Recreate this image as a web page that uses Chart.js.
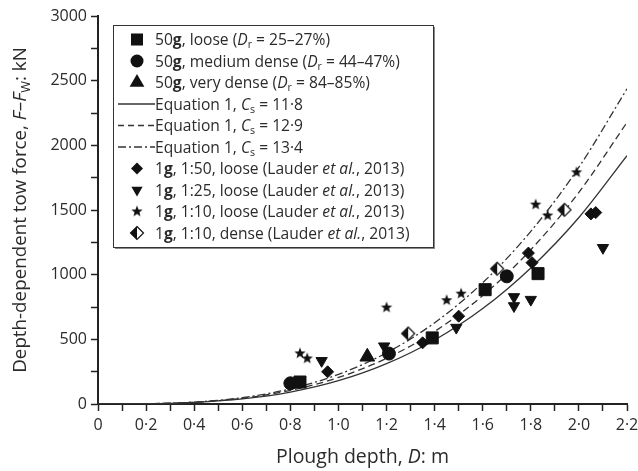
<!DOCTYPE html>
<html>
<head>
<meta charset="utf-8">
<script src="https://cdn.jsdelivr.net/npm/chart.js@4.4.0/dist/chart.umd.min.js"></script>
<style>
  html, body { margin: 0; padding: 0; background: #fff; }
  #wrap { width: 638px; height: 471px; }
</style>
</head>
<body>
<div id="wrap"><canvas id="c"></canvas></div>
<script>
const FONT = '"Open Sans", "Noto Sans", sans-serif';
const INK = '#2b2b2b';

// 50g centrifuge tests (plough depth D in m, force in kN)
const g50LooseD = [0.84, 1.39, 1.61, 1.83];
const g50LooseF = [170, 511, 884, 1008];
const g50MedD = [0.80, 1.21, 1.70];
const g50MedF = [160, 390, 987];
const g50DenseD = [1.12];
const g50DenseF = [365];

// 1g tests (Lauder et al., 2013)
const lau50D = [0.955, 1.35, 1.50, 1.79, 1.805, 2.05, 2.07];
const lau50F = [249, 473, 679, 1167, 1093, 1470, 1480];
const lau25D = [0.93, 1.19, 1.49, 1.73, 1.73, 1.80, 2.10];
const lau25F = [334, 447, 591, 828, 758, 807, 1208];
const lau10D = [0.84, 0.87, 1.20, 1.45, 1.51, 1.82, 1.87, 1.99];
const lau10F = [391, 352, 746, 802, 853, 1542, 1457, 1791];
const lau10dD = [1.29, 1.66, 1.94];
const lau10dF = [545, 1046, 1501];

// Equation 1 curves
const curveD    = [0, 0.2, 0.4, 0.6, 0.8, 1.0, 1.2, 1.4, 1.6, 1.8, 2.0, 2.2];
const curve118  = [0, 1, 12, 39, 92, 180, 312, 495, 738, 1052, 1442, 1920];
const curve129  = [0, 2, 13, 44, 105, 205, 353, 561, 838, 1193, 1636, 2177];
const curve134  = [0, 2, 15, 49, 117, 229, 396, 628, 938, 1335, 1831, 2437];

// legend text runs: '' normal, 'b' bold, 'i' italic, 's' subscript
const legendLabels = [
  [['50', ''], ['g', 'b'], [', loose (', ''], ['D', 'i'], ['r', 's'], [' = 25–27%)', '']],
  [['50', ''], ['g', 'b'], [', medium dense (', ''], ['D', 'i'], ['r', 's'], [' = 44–47%)', '']],
  [['50', ''], ['g', 'b'], [', very dense (', ''], ['D', 'i'], ['r', 's'], [' = 84–85%)', '']],
  [['Equation 1, ', ''], ['C', 'i'], ['s', 's'], [' = 11·8', '']],
  [['Equation 1, ', ''], ['C', 'i'], ['s', 's'], [' = 12·9', '']],
  [['Equation 1, ', ''], ['C', 'i'], ['s', 's'], [' = 13·4', '']],
  [['1', ''], ['g', 'b'], [', 1:50, loose (Lauder ', ''], ['et al.', 'i'], [', 2013)', '']],
  [['1', ''], ['g', 'b'], [', 1:25, loose (Lauder ', ''], ['et al.', 'i'], [', 2013)', '']],
  [['1', ''], ['g', 'b'], [', 1:10, loose (Lauder ', ''], ['et al.', 'i'], [', 2013)', '']],
  [['1', ''], ['g', 'b'], [', 1:10, dense (Lauder ', ''], ['et al.', 'i'], [', 2013)', '']]
];
const yTitle = [['Depth-dependent tow force, ', ''], ['F', 'i'], ['–', ''], ['F', 'i'], ['W', 's'], [': kN', '']];
const xTitle = [['Plough depth, ', ''], ['D', 'i'], [': m', '']];

function toXY(xs, ys) { return xs.map((x, i) => ({ x: x, y: ys[i] })); }

// custom marker images
function starImg(r) {
  const c = document.createElement('canvas');
  c.width = c.height = Math.ceil(r * 2 + 2);
  const g = c.getContext('2d');
  const cx = c.width / 2, cy = c.height / 2;
  g.beginPath();
  for (let i = 0; i < 10; i++) {
    const a = -Math.PI / 2 + i * Math.PI / 5;
    const rr = i % 2 ? r * 0.42 : r;
    g.lineTo(cx + rr * Math.cos(a), cy + rr * Math.sin(a));
  }
  g.closePath();
  g.fillStyle = '#111';
  g.fill();
  return c;
}
function halfDiamondImg(r) {
  const c = document.createElement('canvas');
  c.width = c.height = Math.ceil(r * 2 + 3);
  const g = c.getContext('2d');
  const cx = c.width / 2, cy = c.height / 2;
  g.beginPath();
  g.moveTo(cx, cy - r); g.lineTo(cx + r, cy); g.lineTo(cx, cy + r); g.lineTo(cx - r, cy); g.closePath();
  g.fillStyle = '#fff'; g.fill();
  g.beginPath();
  g.moveTo(cx, cy - r); g.lineTo(cx, cy + r); g.lineTo(cx - r, cy); g.closePath();
  g.fillStyle = '#111'; g.fill();
  g.beginPath();
  g.moveTo(cx, cy - r); g.lineTo(cx + r, cy); g.lineTo(cx, cy + r); g.lineTo(cx - r, cy); g.closePath();
  g.lineWidth = 1.2; g.strokeStyle = '#111'; g.stroke();
  return c;
}
const starMark = starImg(6);
const halfMark = halfDiamondImg(6.5);

function fontFor(s, size) {
  const st = s.includes('i') ? 'italic ' : '';
  const wt = s.includes('b') ? 'bold ' : '';
  const fs = s.includes('s') ? size * 0.68 : size;
  return st + wt + fs + 'px ' + FONT;
}
function richWidth(ctx, runs, size) {
  let w = 0;
  for (const [t, s] of runs) { ctx.font = fontFor(s, size); w += ctx.measureText(t).width; }
  return w;
}
function drawRich(ctx, runs, x, y, size) {
  ctx.textBaseline = 'alphabetic';
  ctx.textAlign = 'left';
  for (const [t, s] of runs) {
    ctx.font = fontFor(s, size);
    ctx.fillText(t, x, y + (s.includes('s') ? size * 0.22 : 0));
    x += ctx.measureText(t).width;
  }
}

const markers = [
  { pointStyle: 'rect', radius: 8.5, rotation: 0 },
  { pointStyle: 'circle', radius: 6.5, rotation: 0 },
  { pointStyle: 'triangle', radius: 8.5, rotation: 0 },
  { line: [] }, { line: [6, 4] }, { line: [8, 3, 2, 3] },
  { pointStyle: 'rectRot', radius: 6, rotation: 0 },
  { pointStyle: 'triangle', radius: 6.5, rotation: 180 },
  { pointStyle: starMark, radius: 6, rotation: 0 },
  { pointStyle: halfMark, radius: 6, rotation: 0 }
];

const annotations = {
  id: 'richText',
  afterDraw(chart) {
    const ctx = chart.ctx;
    const area = chart.chartArea;
    ctx.save();
    ctx.fillStyle = INK;
    // axis titles
    const xw = richWidth(ctx, xTitle, 19.5);
    drawRich(ctx, xTitle, (area.left + area.right) / 2 - xw / 2, 463, 19.5);
    ctx.save();
    ctx.translate(26, (area.top + area.bottom) / 2);
    ctx.rotate(-Math.PI / 2);
    const yw = richWidth(ctx, yTitle, 18.8);
    drawRich(ctx, yTitle, -yw / 2, 0, 18.8);
    ctx.restore();

    // legend box
    const bx = 113, by = 25, bw = 320, bh = 222;
    ctx.fillStyle = '#fff';
    ctx.fillRect(bx, by, bw, bh);
    ctx.fillStyle = '#888';
    ctx.fillRect(bx + 2, by + bh, bw, 2);
    ctx.fillRect(bx + bw, by + 2, 2, bh);
    ctx.strokeStyle = '#333';
    ctx.lineWidth = 1;
    ctx.strokeRect(bx + 0.5, by + 0.5, bw, bh);
    for (let i = 0; i < legendLabels.length; i++) {
      const y = 39.5 + i * 21.5;
      const m = markers[i];
      if (m.line) {
        ctx.save();
        ctx.strokeStyle = '#333';
        ctx.lineWidth = 1.3;
        ctx.setLineDash(m.line);
        ctx.beginPath();
        ctx.moveTo(118, y); ctx.lineTo(155, y);
        ctx.stroke();
        ctx.restore();
      } else {
        ctx.save();
        ctx.fillStyle = '#111';
        ctx.strokeStyle = '#111';
        ctx.lineWidth = 1;
        Chart.helpers.drawPoint(ctx, m, 137, y);
        ctx.restore();
      }
      ctx.fillStyle = INK;
      drawRich(ctx, legendLabels[i], 155, y + 5.5, 15.6);
    }
    ctx.restore();
  }
};

function scatterSet(xs, ys, style, radius, rotation) {
  return {
    type: 'scatter',
    data: toXY(xs, ys),
    pointStyle: style,
    pointRadius: radius,
    pointHoverRadius: radius,
    rotation: rotation || 0,
    backgroundColor: '#111',
    borderColor: '#111',
    borderWidth: 1,
    showLine: false,
    order: 1
  };
}
function curveSet(ys, dash) {
  return {
    type: 'line',
    data: toXY(curveD, ys),
    borderColor: '#333',
    borderWidth: 1.3,
    borderDash: dash,
    pointRadius: 0,
    fill: false,
    cubicInterpolationMode: 'monotone',
    order: 2
  };
}

new Chart(document.getElementById('c'), {
  type: 'scatter',
  data: {
    datasets: [
      scatterSet(g50LooseD, g50LooseF, 'rect', 8.5),
      scatterSet(g50MedD, g50MedF, 'circle', 6.5),
      scatterSet(g50DenseD, g50DenseF, 'triangle', 8.5),
      scatterSet(lau50D, lau50F, 'rectRot', 6),
      scatterSet(lau25D, lau25F, 'triangle', 6.5, 180),
      scatterSet(lau10D, lau10F, starMark, 6),
      scatterSet(lau10dD, lau10dF, halfMark, 6),
      curveSet(curve118, []),
      curveSet(curve129, [7, 4]),
      curveSet(curve134, [8, 3, 2, 3])
    ]
  },
  options: {
    responsive: true,
    maintainAspectRatio: false,
    animation: false,
    layout: { padding: { top: 16, right: 11, left: 0, bottom: 0 } },
    plugins: { legend: { display: false }, tooltip: { enabled: false } },
    scales: {
      x: {
        type: 'linear', min: 0, max: 2.2,
        afterFit: s => { s.height = 67; s.paddingRight = 11; s.paddingLeft = 0; },
        border: { color: '#222', width: 2 },
        grid: { drawOnChartArea: false, drawTicks: true, tickLength: 7, tickColor: '#222', tickWidth: 1.5 },
        ticks: {
          stepSize: 0.1, autoSkip: false, maxTicksLimit: 40, maxRotation: 0,
          color: INK, padding: 5, font: { family: FONT, size: 16 },
          callback: v => {
            const k = Math.round(v * 10);
            if (k % 2) return '';
            return k === 0 ? '0' : (k / 10).toFixed(1).replace('.', '·');
          }
        }
      },
      y: {
        min: 0, max: 3000,
        afterFit: s => { s.width = 98; s.paddingTop = 0; s.paddingBottom = 0; },
        border: { color: '#222', width: 2 },
        grid: { drawOnChartArea: false, drawTicks: true, tickLength: 7, tickColor: '#222', tickWidth: 1.5 },
        ticks: {
          stepSize: 250, autoSkip: false, maxTicksLimit: 20,
          color: INK, padding: 4, font: { family: FONT, size: 16 },
          callback: v => (v % 500 === 0 ? String(v) : '')
        }
      }
    }
  },
  plugins: [annotations]
});
</script>
</body>
</html>
